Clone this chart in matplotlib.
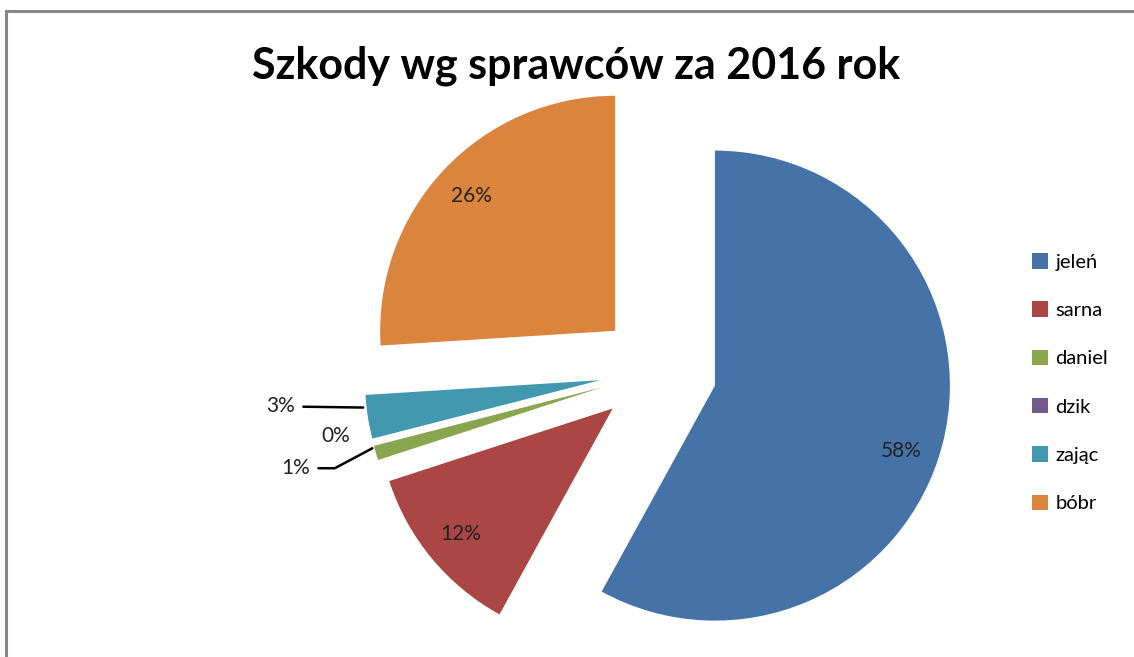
import matplotlib
matplotlib.use("Agg")
import matplotlib.pyplot as plt
import numpy as np
from matplotlib.lines import Line2D

categories = ["jeleń", "sarna", "daniel", "dzik", "zając", "bóbr"]
values = [58, 12, 1, 0, 3, 26]
colors = ["#4572A7", "#AA4643", "#89A54E", "#71588F", "#4198AF", "#DB843D"]
title = "Szkody wg sprawców za 2016 rok"

FONT = "Lato"
TXT = "#222222"
LBL = 15

W, H = 1134, 657
fig = plt.figure(figsize=(W / 100, H / 100), dpi=100)
ax = fig.add_axes([0, 0, 1, 1])
ax.set_axis_off()

# pixel mapping: pie center at (658, 371), radius 235 px
cx, cy, R = 658, 371, 235

explode = [0.25] * len(values)
wedges, texts, autotexts = ax.pie(
    values, colors=colors, explode=explode, startangle=90, counterclock=False,
    autopct=lambda p: f"{p:.0f}%", pctdistance=0.84, radius=1.0,
    wedgeprops=dict(linewidth=0), textprops=dict(fontsize=LBL, family=FONT, color=TXT),
)
ax.set_xlim(-cx / R, (W - cx) / R)
ax.set_ylim(-(H - cy) / R, cy / R)
ax.set_aspect("auto")

# nudge the big label a bit lower like the reference
x0, y0 = autotexts[0].get_position()
autotexts[0].set_position((x0 - 0.02, y0 - 0.07))

def wedge_edge(w, frac=1.0):
    th = np.deg2rad((w.theta1 + w.theta2) / 2)
    xc, yc = w.center
    return xc + w.r * frac * np.cos(th), yc + w.r * frac * np.sin(th)

for i in (2, 3, 4):
    autotexts[i].set_visible(False)

# zając (3%)
ex, ey = wedge_edge(wedges[4])
ax.annotate(autotexts[4].get_text(), xy=(ex - 0.02, ey + 0.04), xytext=(ex - 0.31, ey + 0.045),
            ha="right", va="center", fontsize=LBL, family=FONT, color=TXT,
            arrowprops=dict(arrowstyle="-", color="black", lw=1.8, shrinkA=4, shrinkB=0))
# daniel (1%)
ex, ey = wedge_edge(wedges[2])
ax.annotate(autotexts[2].get_text(), xy=(ex - 0.015, ey + 0.02), xytext=(ex - 0.28, ey - 0.065),
            ha="right", va="center", fontsize=LBL, family=FONT, color=TXT,
            arrowprops=dict(arrowstyle="-", color="black", lw=1.8, shrinkA=4, shrinkB=0,
                            connectionstyle="angle,angleA=0,angleB=28,rad=0"))
# dzik (0%)
ex, ey = wedge_edge(wedges[3])
ax.text(ex - 0.16, ey + 0.035, autotexts[3].get_text(), ha="center", va="center",
        fontsize=LBL, family=FONT, color=TXT)

fig.text(576 / W, 1 - 66 / H, title, ha="center", va="center", fontsize=31,
         fontweight="bold", family=FONT, color="black")

leg = ax.legend(wedges, categories, loc="upper left", bbox_to_anchor=(1014 / W, 1 - 235 / H),
                bbox_transform=fig.transFigure, frameon=False,
                prop=dict(family=FONT, size=14.5), handlelength=0.8, handleheight=0.8,
                handletextpad=0.35, labelspacing=1.52)

# outer frame
fig.add_artist(Line2D([6 / W, 6 / W], [0, 1 - 11 / H], transform=fig.transFigure, color="#888888", lw=2.2))
fig.add_artist(Line2D([6 / W, 1], [1 - 11 / H, 1 - 11 / H], transform=fig.transFigure, color="#888888", lw=2.2))

fig.savefig("out.png", dpi=100)
